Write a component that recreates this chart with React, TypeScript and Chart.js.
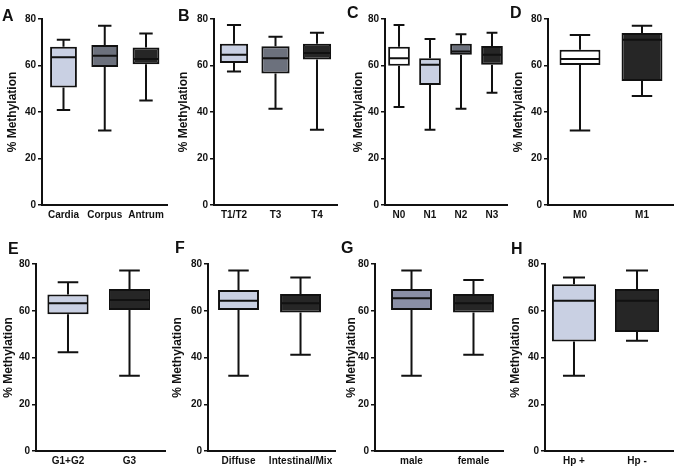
import React, { useEffect, useRef } from 'react';
import { Chart, registerables } from 'chart.js';

Chart.register(...registerables);

// ---- colours ----
const LIGHT = '#c9d0e3';
const MID = '#6c717d';
const SLATE = '#8a8fa6';
const DARK = '#262626';
const WHITE = '#ffffff';
const INK = '#111111';

// ---- data: each box is [min, Q1, median, Q3, max] ----
const yTicks = [0, 20, 40, 60, 80];

const labelsA = ['Cardia', 'Corpus', 'Antrum'];
const statsA = [
  [40.9, 50.5, 63.5, 68.1, 71.1],
  [32.0, 59.4, 64.2, 68.8, 77.1],
  [44.9, 60.5, 62.8, 67.7, 73.8],
];

const labelsB = ['T1/T2', 'T3', 'T4'];
const statsB = [
  [57.4, 61.1, 64.6, 69.4, 77.4],
  [41.4, 56.6, 63.1, 68.3, 72.4],
  [32.4, 62.6, 65.4, 69.4, 74.1],
];

const labelsC = ['N0', 'N1', 'N2', 'N3'];
const statsC = [
  [42.1, 59.9, 63.1, 68.1, 77.4],
  [32.4, 51.6, 60.3, 63.1, 71.4],
  [41.4, 64.6, 66.0, 69.4, 73.4],
  [48.3, 60.3, 64.6, 68.4, 74.1],
];

const labelsD = ['M0', 'M1'];
const statsD = [
  [32.0, 60.2, 62.8, 66.8, 73.1],
  [46.9, 53.3, 71.1, 74.0, 77.1],
];

const labelsE = ['G1+G2', 'G3'];
const statsE = [
  [42.2, 58.5, 63.2, 67.0, 72.2],
  [32.2, 60.3, 64.6, 69.3, 77.2],
];

const labelsF = ['Diffuse', 'Intestinal/Mix'];
const statsF = [
  [32.2, 60.3, 64.3, 68.9, 77.2],
  [41.2, 59.2, 63.2, 67.2, 74.2],
];

const labelsG = ['male', 'female'];
const statsG = [
  [32.2, 60.3, 65.3, 69.3, 77.2],
  [41.2, 59.3, 63.2, 67.2, 73.2],
];

const labelsH = ['Hp +', 'Hp -'];
const statsH = [
  [32.2, 46.8, 64.3, 71.3, 74.2],
  [47.2, 50.9, 64.3, 69.3, 77.2],
];

// ---- layout (positions only) ----
type PanelCfg = {
  letter: string;
  labels: string[];
  stats: number[][];
  colors: string[];
  left: number; // canvas left
  top: number; // canvas top
  axisW: number; // width of y scale box
  right: number; // x of end of x axis
  padTop: number;
  height: number;
  xH: number;
  xMin: number;
  xMax: number;
  pct: number;
  lx: number;
  ly: number;
};

const PAD_R = 14;

const panels: PanelCfg[] = [
  { letter: 'A', labels: labelsA, stats: statsA, colors: [LIGHT, MID, DARK], left: 5, top: 0, axisW: 37, right: 167, padTop: 19, height: 235, xH: 30, xMin: -0.521, xMax: 2.509, pct: 0.65, lx: 2, ly: 8 },
  { letter: 'B', labels: labelsB, stats: statsB, colors: [LIGHT, MID, DARK], left: 176, top: 0, axisW: 38, right: 337, padTop: 19, height: 235, xH: 30, xMin: -0.482, xMax: 2.482, pct: 0.68, lx: 178, ly: 8 },
  { letter: 'C', labels: labelsC, stats: statsC, colors: [WHITE, LIGHT, MID, DARK], left: 351, top: 0, axisW: 34, right: 507, padTop: 19, height: 235, xH: 30, xMin: -0.452, xMax: 3.484, pct: 0.7, lx: 347, ly: 5 },
  { letter: 'D', labels: labelsD, stats: statsD, colors: [WHITE, DARK], left: 511, top: 0, axisW: 37, right: 673, padTop: 19, height: 235, xH: 30, xMin: -0.516, xMax: 1.5, pct: 0.66, lx: 510, ly: 5 },
  { letter: 'E', labels: labelsE, stats: statsE, colors: [LIGHT, DARK], left: 1, top: 235, axisW: 35, right: 165, padTop: 29, height: 233, xH: 17, xMin: -0.52, xMax: 1.577, pct: 0.67, lx: 8, ly: 241 },
  { letter: 'F', labels: labelsF, stats: statsF, colors: [LIGHT, DARK], left: 170, top: 235, axisW: 38, right: 335, padTop: 29, height: 233, xH: 17, xMin: -0.492, xMax: 1.556, pct: 0.66, lx: 175, ly: 240 },
  { letter: 'G', labels: labelsG, stats: statsG, colors: [SLATE, DARK], left: 344, top: 235, axisW: 31, right: 503, padTop: 29, height: 233, xH: 17, xMin: -0.589, xMax: 1.476, pct: 0.66, lx: 341, ly: 240 },
  { letter: 'H', labels: labelsH, stats: statsH, colors: [LIGHT, DARK], left: 508, top: 235, axisW: 37, right: 673, padTop: 29, height: 233, xH: 17, xMin: -0.46, xMax: 1.571, pct: 0.7, lx: 511, ly: 241 },
];

const FONT = "'Liberation Sans', Arial, sans-serif";

function Panel({ p }: { p: PanelCfg }) {
  const ref = useRef<HTMLCanvasElement | null>(null);
  const width = p.right - p.left + PAD_R;

  useEffect(() => {
    if (!ref.current) return;
    const whiskers = {
      id: 'whiskers',
      afterDatasetsDraw(chart: any) {
        const ctx = chart.ctx;
        const ys = chart.scales.y;
        const meta = chart.getDatasetMeta(0);
        ctx.save();
        ctx.strokeStyle = INK;
        ctx.lineWidth = 2;
        meta.data.forEach((bar: any, i: number) => {
          const [mn, q1, med, q3, mx] = p.stats[i];
          const x = bar.x;
          const w = bar.width;
          const cap = w / 4;
          const yMin = ys.getPixelForValue(mn);
          const yQ1 = ys.getPixelForValue(q1);
          const yMed = ys.getPixelForValue(med);
          const yQ3 = ys.getPixelForValue(q3);
          const yMax = ys.getPixelForValue(mx);
          ctx.beginPath();
          ctx.moveTo(x, yQ3);
          ctx.lineTo(x, yMax);
          ctx.moveTo(x - cap, yMax);
          ctx.lineTo(x + cap, yMax);
          ctx.moveTo(x, yQ1);
          ctx.lineTo(x, yMin);
          ctx.moveTo(x - cap, yMin);
          ctx.lineTo(x + cap, yMin);
          ctx.moveTo(x - w / 2 + 1, yMed);
          ctx.lineTo(x + w / 2 - 1, yMed);
          ctx.stroke();
        });
        ctx.restore();
      },
    };

    const chart = new Chart(ref.current, {
      type: 'bar',
      data: {
        datasets: [
          {
            data: p.stats.map((s, i) => ({ x: i, y: [s[1], s[3]] })) as any,
            backgroundColor: p.colors,
            borderColor: INK,
            borderWidth: 2,
            borderSkipped: false,
            categoryPercentage: p.pct,
            barPercentage: 1,
          },
        ],
      },
      options: {
        animation: false,
        responsive: false,
        devicePixelRatio: 1,
        events: [],
        layout: { padding: { left: 0, right: PAD_R, top: p.padTop, bottom: 0 } },
        plugins: {
          legend: { display: false },
          tooltip: { enabled: false },
          title: { display: false },
        },
        scales: {
          x: {
            type: 'linear',
            min: p.xMin,
            max: p.xMax,
            offset: false,
            grid: { display: false, drawTicks: false },
            border: { display: true, color: INK, width: 2 },
            ticks: {
              stepSize: 1,
              includeBounds: false,
              autoSkip: false,
              maxRotation: 0,
              minRotation: 0,
              padding: 4,
              color: INK,
              font: { family: FONT, size: 10, weight: 'bold' },
              callback: (v: any) => (Number.isInteger(v) && p.labels[v] !== undefined ? p.labels[v] : ''),
            },
            afterFit: (s: any) => {
              s.height = p.xH;
            },
          } as any,
          y: {
            type: 'linear',
            min: 0,
            max: 80,
            afterBuildTicks: (s: any) => {
              s.ticks = yTicks.map((v) => ({ value: v }));
            },
            grid: { drawOnChartArea: false, drawTicks: true, tickLength: 4, color: INK, lineWidth: 1.5 },
            border: { display: true, color: INK, width: 2 },
            ticks: {
              padding: 2,
              color: INK,
              font: { family: FONT, size: 10, weight: 'bold' },
            },
            title: {
              display: true,
              text: '% Methylation',
              color: INK,
              padding: 0,
              font: { family: FONT, size: 12, weight: 'bold' },
            },
            afterFit: (s: any) => {
              s.width = p.axisW;
            },
          } as any,
        },
      },
      plugins: [whiskers],
    });
    return () => chart.destroy();
  }, [p]);

  return (
    <>
      <canvas
        ref={ref}
        width={width}
        height={p.height}
        style={{ position: 'absolute', left: p.left, top: p.top, width, height: p.height, display: 'block' }}
      />
      <div
        style={{
          position: 'absolute',
          left: p.lx,
          top: p.ly,
          font: `bold 16px ${FONT}`,
          lineHeight: '16px',
          color: INK,
        }}
      >
        {p.letter}
      </div>
    </>
  );
}

export default function App() {
  return (
    <div
      style={{
        position: 'fixed',
        left: 0,
        top: 0,
        width: 675,
        height: 468,
        background: '#ffffff',
        overflow: 'hidden',
      }}
    >
      {panels.map((p) => (
        <Panel key={p.letter} p={p} />
      ))}
    </div>
  );
}
